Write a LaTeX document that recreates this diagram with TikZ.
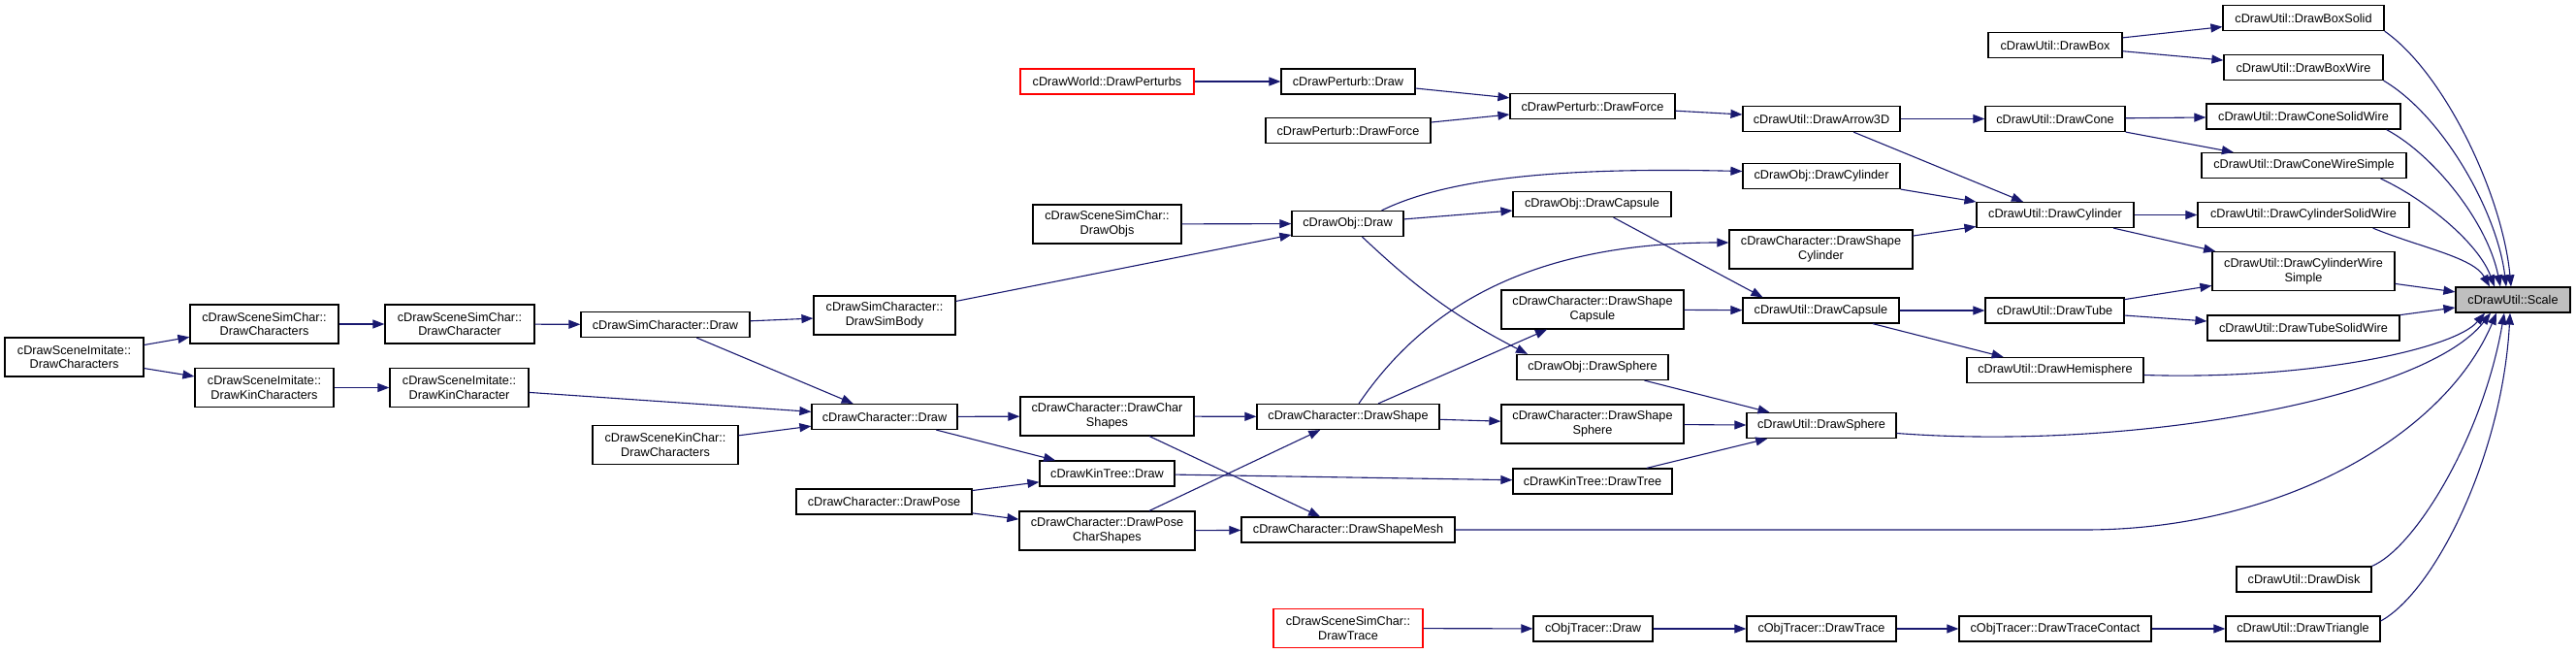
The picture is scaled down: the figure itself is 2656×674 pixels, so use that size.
\documentclass[tikz,border=0pt]{standalone}
\usepackage{fontspec}
\setmainfont{Liberation Sans}
\usetikzlibrary{arrows.meta}
\definecolor{edgeblue}{HTML}{191970}
\definecolor{scalegray}{HTML}{BFBFBF}
\begin{document}
\begin{tikzpicture}[x=1pt,y=-1pt,
  fn/.style={draw=black, line width=1.2pt, fill=white, inner sep=0pt, minimum height=26pt, align=center, font=\fontsize{12.7}{14.7}\selectfont},
  fn2/.style={fn, minimum height=40pt},
  rd/.style={draw=red},
  e/.style={draw=edgeblue, line width=1.1pt, -{Triangle[length=12pt,width=9pt]}},
]
\useasboundingbox (0,0) rectangle (2656,674);
% column 1-4
\node[fn2, minimum width=143pt] (imdc) at (76.5,368) {cDrawSceneImitate::\\DrawCharacters};
\node[fn2, minimum width=153pt] (ssdcs) at (272.5,334) {cDrawSceneSimChar::\\DrawCharacters};
\node[fn2, minimum width=143pt] (imdkcs) at (272.5,399.5) {cDrawSceneImitate::\\DrawKinCharacters};
\node[fn2, minimum width=154pt] (ssdc) at (474,334) {cDrawSceneSimChar::\\DrawCharacter};
\node[fn2, minimum width=143pt] (imdkc) at (473.5,399.5) {cDrawSceneImitate::\\DrawKinCharacter};
\node[fn, minimum width=174pt] (scdraw) at (686,334.5) {cDrawSimCharacter::Draw};
\node[fn2, minimum width=150pt] (skdc) at (686,458.5) {cDrawSceneKinChar::\\DrawCharacters};
% column 5
\node[fn2, minimum width=146pt] (simbody) at (912,325) {cDrawSimCharacter::\\DrawSimBody};
\node[fn, minimum width=150pt] (chdraw) at (912,429.5) {cDrawCharacter::Draw};
\node[fn, minimum width=181pt] (drawpose) at (911.5,517) {cDrawCharacter::DrawPose};
% column 6
\node[fn, rd, minimum width=179pt] (perturbs) at (1141.5,84) {cDrawWorld::DrawPerturbs};
\node[fn2, minimum width=153pt] (objs) at (1141.5,231) {cDrawSceneSimChar::\\DrawObjs};
\node[fn2, minimum width=179pt] (charshapes) at (1141.5,429) {cDrawCharacter::DrawChar\\Shapes};
\node[fn, minimum width=139pt] (kdraw) at (1141.5,488) {cDrawKinTree::Draw};
\node[fn2, minimum width=181pt] (posecs) at (1141.5,547) {cDrawCharacter::DrawPose\\CharShapes};
% column 7
\node[fn2, rd, minimum width=154pt] (trace) at (1390,647.5) {cDrawSceneSimChar::\\DrawTrace};
\node[fn, minimum width=138pt] (pdraw) at (1390,84) {cDrawPerturb::Draw};
\node[fn, minimum width=170pt] (pforceL) at (1390,134.5) {cDrawPerturb::DrawForce};
\node[fn, minimum width=115pt] (odraw) at (1389.5,230.5) {cDrawObj::Draw};
\node[fn, minimum width=188pt] (shape) at (1390,429.5) {cDrawCharacter::DrawShape};
\node[fn, minimum width=220pt] (mesh) at (1390,546) {cDrawCharacter::DrawShapeMesh};
% column 8
\node[fn, minimum width=170pt] (pforceR) at (1642,109.5) {cDrawPerturb::DrawForce};
\node[fn, minimum width=163pt] (ocaps) at (1641.5,210.5) {cDrawObj::DrawCapsule};
\node[fn2, minimum width=188pt] (shcaps) at (1642,319) {cDrawCharacter::DrawShape\\Capsule};
\node[fn, minimum width=156pt] (osph) at (1642,378.5) {cDrawObj::DrawSphere};
\node[fn2, minimum width=188pt] (shsph) at (1642,437) {cDrawCharacter::DrawShape\\Sphere};
\node[fn, minimum width=164pt] (ktree) at (1642,496) {cDrawKinTree::DrawTree};
\node[fn, minimum width=123pt] (otdraw) at (1642.5,648) {cObjTracer::Draw};
% column 9
\node[fn, minimum width=162pt] (arrow3d) at (1878,122.5) {cDrawUtil::DrawArrow3D};
\node[fn, minimum width=162pt] (ocyl) at (1878,181.5) {cDrawObj::DrawCylinder};
\node[fn2, minimum width=189pt] (shcyl) at (1877.5,257) {cDrawCharacter::DrawShape\\Cylinder};
\node[fn, minimum width=161pt] (ucaps) at (1877.5,320) {cDrawUtil::DrawCapsule};
\node[fn, minimum width=154pt] (usph) at (1878,438.5) {cDrawUtil::DrawSphere};
\node[fn, minimum width=154pt] (otrace) at (1878,648) {cObjTracer::DrawTrace};
% column 10
\node[fn, minimum width=138pt] (box) at (2119,46.5) {cDrawUtil::DrawBox};
\node[fn, minimum width=144pt] (cone) at (2119,122.5) {cDrawUtil::DrawCone};
\node[fn, minimum width=162pt] (ucyl) at (2119,221.5) {cDrawUtil::DrawCylinder};
\node[fn, minimum width=143pt] (tube) at (2118.5,320) {cDrawUtil::DrawTube};
\node[fn, minimum width=182pt] (hemi) at (2119,381.5) {cDrawUtil::DrawHemisphere};
\node[fn, minimum width=198pt] (tcontact) at (2119,648) {cObjTracer::DrawTraceContact};
% column 11
\node[fn, minimum width=166pt] (boxsolid) at (2375,18.5) {cDrawUtil::DrawBoxSolid};
\node[fn, minimum width=164pt] (boxwire) at (2375,69.5) {cDrawUtil::DrawBoxWire};
\node[fn, minimum width=200pt] (conesw) at (2375,120) {cDrawUtil::DrawConeSolidWire};
\node[fn, minimum width=211pt] (conews) at (2375.5,170.5) {cDrawUtil::DrawConeWireSimple};
\node[fn, minimum width=218pt] (cylsw) at (2375,221.5) {cDrawUtil::DrawCylinderSolidWire};
\node[fn2, minimum width=188pt] (cylws) at (2375,279.5) {cDrawUtil::DrawCylinderWire\\Simple};
\node[fn, minimum width=198pt] (tubesw) at (2375,338) {cDrawUtil::DrawTubeSolidWire};
\node[fn, minimum width=139pt] (disk) at (2375.5,597) {cDrawUtil::DrawDisk};
\node[fn, minimum width=159pt] (tri) at (2374.5,648) {cDrawUtil::DrawTriangle};
% column 12
\node[fn, fill=scalegray, minimum width=118pt] (scale) at (2591,309) {cDrawUtil::Scale};
\coordinate (meshbend) at (2150,546);

% edges
\draw[e] (imdc) -- (ssdcs);
\draw[e] (imdc) -- (imdkcs);
\draw[e] (ssdcs) -- (ssdc);
\draw[e] (ssdc) -- (scdraw);
\draw[e] (scdraw) -- (simbody);
\draw[e] (scdraw) -- (chdraw);
\draw[e] (imdkcs) -- (imdkc);
\draw[e] (imdkc) -- (chdraw);
\draw[e] (skdc) -- (chdraw);
\draw[e] (simbody) -- (odraw);
\draw[e] (objs) -- (odraw);
\draw[e] (perturbs) -- (pdraw);
\draw[e] (pdraw) -- (pforceR);
\draw[e] (pforceL) -- (pforceR);
\draw[e] (pforceR) -- (arrow3d);
\draw[e] ([xshift=35pt]odraw.north) .. controls (1490,185) and (1600,172) .. ([yshift=5pt]ocyl.west);
\draw[e] (odraw) -- (ocaps);
\draw[e] ([xshift=15pt]odraw.south) to[bend right=8] ([xshift=-67pt]osph.north);
\draw[e] ([xshift=22pt]ocaps.south) -- ([xshift=-60pt]ucaps.north);
\draw[e] (chdraw) -- (charshapes);
\draw[e] (chdraw) -- (kdraw);
\draw[e] (drawpose) -- (kdraw);
\draw[e] (drawpose) -- (posecs);
\draw[e] (charshapes) -- (shape);
\draw[e] (charshapes) -- (mesh);
\draw[e] (posecs) -- (shape);
\draw[e] (posecs) -- (mesh);
\draw[e] ([xshift=11pt]shape.north) .. controls (1460,330) and (1560,250) .. ([yshift=7pt]shcyl.west);
\draw[e] (shape) -- (shcaps);
\draw[e] (shape) -- (shsph);
\draw[e] (kdraw) -- (ktree);
\draw[e] (shcaps) -- (ucaps);
\draw[e] (shsph) -- (usph);
\draw[e] (osph) -- (usph);
\draw[e] (ktree) -- (usph);
\draw[e] (mesh.east) -- (meshbend) .. controls (2350,546) and (2520,450) .. ([xshift=-17pt]scale.south);
\draw[e] (trace) -- (otdraw);
\draw[e] (otdraw) -- (otrace);
\draw[e] (otrace) -- (tcontact);
\draw[e] (tcontact) -- (tri);
\draw[e] ([yshift=8pt]tri.east) .. controls (2510,610) and (2580,470) .. ([xshift=-3pt]scale.south);
\draw[e] (disk.north east) .. controls (2490,565) and (2560,450) .. ([xshift=-9pt]scale.south);
\draw[e] ([yshift=-8pt]usph.east) .. controls (2200,465) and (2500,410) .. ([xshift=-23pt]scale.south);
\draw[e] ([yshift=-5pt]hemi.east) .. controls (2380,392) and (2530,360) .. ([xshift=-29pt]scale.south);
\draw[e] (ucaps) -- (tube);
\draw[e] (ucaps) -- (hemi);
\draw[e] (tube) -- (cylws);
\draw[e] (tube) -- (tubesw);
\draw[e] (tubesw) -- (scale);
\draw[e] (cylws) -- (scale);
\draw[e] (ucyl) -- (cylsw);
\draw[e] (ucyl) -- (cylws);
\draw[e] ([xshift=-38pt]cylsw.south east) .. controls (2495,255) and (2550,265) .. ([xshift=-24pt]scale.north);
\draw[e] (arrow3d) -- (cone);
\draw[e] (arrow3d) -- (ucyl);
\draw[e] (ocyl) -- (ucyl);
\draw[e] (shcyl) -- (ucyl);
\draw[e] (cone) -- (conesw);
\draw[e] (cone) -- (conews);
\draw[e] ([xshift=-15pt]conesw.south east) .. controls (2510,160) and (2565,230) .. ([xshift=-13pt]scale.north);
\draw[e] ([xshift=-27pt]conews.south east) .. controls (2500,205) and (2555,250) .. ([xshift=-19pt]scale.north);
\draw[e] (box) -- (boxsolid);
\draw[e] (box) -- (boxwire);
\draw[e] (boxsolid.south east) .. controls (2520,75) and (2580,200) .. ([xshift=-2pt]scale.north);
\draw[e] (boxwire.south east) .. controls (2520,120) and (2575,220) .. ([xshift=-7pt]scale.north);
\end{tikzpicture}
\end{document}
